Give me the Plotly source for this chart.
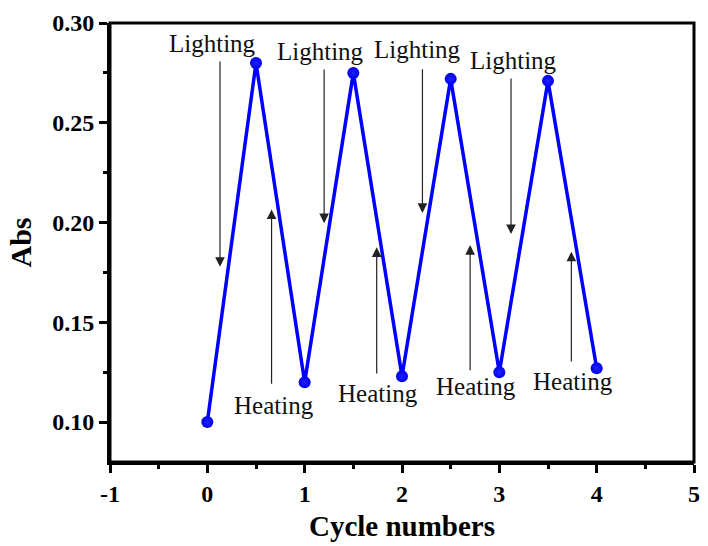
import plotly.graph_objects as go

# Absorbance over light/heat switching cycles
cycle = [0, 0.5, 1, 1.5, 2, 2.5, 3, 3.5, 4]
absorbance = [0.100, 0.280, 0.120, 0.275, 0.123, 0.272, 0.125, 0.271, 0.127]

x_ticks = [-1, 0, 1, 2, 3, 4, 5]
x_tick_text = ["-1", "0", "1", "2", "3", "4", "5"]
y_ticks = [0.10, 0.15, 0.20, 0.25, 0.30]

# "Lighting" labels and their downward arrows
light_label_x = [0.05, 1.16, 2.16, 3.15]
light_label_y = [0.2895, 0.2855, 0.2865, 0.2812]
light_arrow_x = [0.13, 1.20, 2.21, 3.12]
light_arrow_top = [0.2815, 0.2774, 0.2776, 0.2730]
light_arrow_tip = [0.1778, 0.1997, 0.2048, 0.1942]

# "Heating" labels and their upward arrows
heat_label_x = [0.69, 1.75, 2.76, 3.76]
heat_label_y = [0.1085, 0.1145, 0.1180, 0.1202]
heat_arrow_x = [0.66, 1.74, 2.70, 3.74]
heat_arrow_bottom = [0.1185, 0.1236, 0.1252, 0.1296]
heat_arrow_tip = [0.2066, 0.1876, 0.1887, 0.1854]

FONT = "Liberation Serif, Times New Roman, serif"

fig = go.Figure()
fig.add_trace(go.Scatter(
    x=cycle, y=absorbance, mode="lines+markers",
    line=dict(color="#0000FF", width=3.5),
    marker=dict(size=12, color="#0000EE",
                gradient=dict(type="radial", color="#2020FF")),
    showlegend=False,
))

annotations = []
for lx, ly in zip(light_label_x, light_label_y):
    annotations.append(dict(x=lx, y=ly, text="Lighting", showarrow=False,
                            font=dict(family=FONT, size=25, color="#111")))
for ax_, top, tip in zip(light_arrow_x, light_arrow_top, light_arrow_tip):
    annotations.append(dict(x=ax_, y=tip, ax=ax_, ay=top, axref="x", ayref="y",
                            xref="x", yref="y", text="", showarrow=True,
                            arrowhead=2, arrowsize=1.6, arrowwidth=1.2,
                            arrowcolor="#222"))
for hx, hy in zip(heat_label_x, heat_label_y):
    annotations.append(dict(x=hx, y=hy, text="Heating", showarrow=False,
                            font=dict(family=FONT, size=25, color="#111")))
for ax_, bot, tip in zip(heat_arrow_x, heat_arrow_bottom, heat_arrow_tip):
    annotations.append(dict(x=ax_, y=tip, ax=ax_, ay=bot, axref="x", ayref="y",
                            xref="x", yref="y", text="", showarrow=True,
                            arrowhead=2, arrowsize=1.6, arrowwidth=1.2,
                            arrowcolor="#222"))

axis_common = dict(
    showline=True, linecolor="black", linewidth=3, mirror=False,
    ticks="outside", ticklen=8, tickwidth=3, tickcolor="black",
    showgrid=False, zeroline=False,
    tickfont=dict(family=FONT, size=24, color="black", weight="bold"),
)

fig.update_layout(
    width=708, height=546,
    margin=dict(l=110, r=8, t=23, b=84),
    paper_bgcolor="white", plot_bgcolor="white",
    annotations=annotations,
    shapes=[dict(type="rect", xref="x domain", yref="y domain", x0=0, y0=0, x1=1, y1=1,
                 line=dict(color="black", width=3), layer="above")],
    xaxis=dict(
        range=[-1, 5], tickvals=x_ticks, ticktext=x_tick_text,
        minor=dict(ticks="outside", ticklen=4, tickwidth=3, tickcolor="black", dtick=0.5),
        title=dict(text="Cycle numbers", standoff=10,
                   font=dict(family=FONT, size=29, color="black", weight="bold")),
        **axis_common,
    ),
    yaxis=dict(
        range=[0.08, 0.30], tickvals=y_ticks, tickformat=".2f",
        minor=dict(ticks="outside", ticklen=4, tickwidth=3, tickcolor="black", dtick=0.025, tick0=0.075),
        title=dict(text="Abs", standoff=12,
                   font=dict(family=FONT, size=30, color="black", weight="bold")),
        **axis_common,
    ),
)

fig.write_html("out.html")
